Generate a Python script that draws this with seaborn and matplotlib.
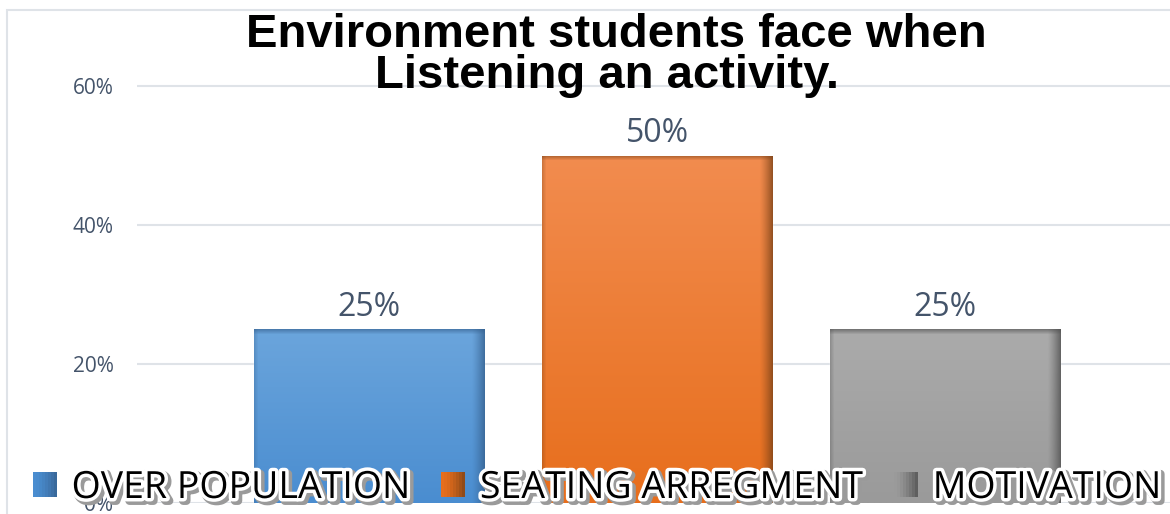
import matplotlib
matplotlib.use("Agg")
import matplotlib.pyplot as plt
import matplotlib.patheffects as pe
from matplotlib.patches import Patch, Rectangle
from matplotlib.legend_handler import HandlerBase
import numpy as np
import seaborn as sns

# ---- data ----
categories = ["OVER POPULATION", "SEATING ARREGMENT", "MOTIVATION"]
values = [0.25, 0.50, 0.25]
yticks = [0.0, 0.2, 0.4, 0.6]
ytick_labels = ["0%", "20%", "40%", "60%"]
title_lines = ["Environment students face when", "Listening an activity."]

# ---- style ----
top_colors = ["#6ba5dc", "#f28c4f", "#ababab"]
bottom_colors = ["#4a8dd0", "#e76e1c", "#9a9a9a"]
edge_colors = ["#35608e", "#7a4218", "#505050"]
label_color = "#44546a"
grid_color = "#dfe3e8"

sns.set_theme(style="white")
plt.rcParams["font.family"] = ["Open Sans", "DejaVu Sans"]

W, H = 1170, 514
fig = plt.figure(figsize=(W / 100, H / 100), dpi=100)
ax = fig.add_axes([137 / W, 11 / H, 1 - 137 / W, 420 / H])

sns.barplot(x=categories, y=values, hue=categories, palette=bottom_colors,
            width=0.8, legend=False, ax=ax, saturation=1, zorder=2)

x_lo, x_hi = -0.806, 2.781
y_hi = 0.6 * 420 / 417
ax.set_xlim(x_lo, x_hi)
ax.set_ylim(0, y_hi)


def hex_rgb(c):
    return np.array(matplotlib.colors.to_rgb(c))


# gradient overlay on every bar (the excel-like shading)
for i, patch in enumerate(ax.patches):
    x0, w, h = patch.get_x(), patch.get_width(), patch.get_height()
    p0 = ax.transData.transform((x0, 0))
    p1 = ax.transData.transform((x0 + w, h))
    nx, ny = max(int(p1[0] - p0[0]), 2), max(int(p1[1] - p0[1]), 2)
    top, bot, edge = hex_rgb(top_colors[i]), hex_rgb(bottom_colors[i]), hex_rgb(edge_colors[i])
    t = np.linspace(0, 1, ny)[:, None, None]
    img = top + (bot - top) * t
    img = np.repeat(img, nx, axis=1)
    # dark right side
    px = np.arange(nx)
    right = np.clip((px - (nx - 14)) / 14, 0, 1) ** 1.3 * 0.85
    left = np.clip((4 - px) / 4, 0, 1) * 0.3
    shade = np.maximum(right, left)[None, :, None]
    img = img * (1 - shade) + edge * shade
    # dark top edge
    py = np.arange(ny)
    tshade = (np.clip((5 - py) / 5, 0, 1) * 0.6)[:, None, None]
    img = img * (1 - tshade) + edge * tshade
    im = ax.imshow(img, extent=[x0, x0 + w, 0, h], aspect="auto",
                   origin="upper", zorder=3, interpolation="bilinear")
    im.set_clip_path(patch)

ax.set_xlim(x_lo, x_hi)
ax.set_ylim(0, y_hi)

for cont, v in zip(ax.containers, values):
    ax.bar_label(cont, labels=[f"{v:.0%}"], padding=4, fontsize=23,
                 color=label_color, zorder=4)

ax.set_yticks(yticks)
ax.set_yticklabels(ytick_labels, fontsize=15, color=label_color)
ax.tick_params(axis="y", length=0, pad=17)
ax.set_xticks([])
ax.set_xlabel("")
ax.set_ylabel("")
ax.grid(axis="y", color=grid_color, linewidth=1.5, zorder=0)
ax.set_axisbelow(True)
sns.despine(ax=ax, left=True, bottom=True)

# chart frame (left and top border)
fig.add_artist(Rectangle((7 / W, -0.1), 1.2, 1.1 - 10 / H, transform=fig.transFigure,
                         facecolor="none", edgecolor=grid_color, linewidth=1.5))

# title: two lines set tight, like the original
for line, xc, yb in zip(title_lines, [616, 607], [47, 88]):
    fig.text(xc / W, 1 - yb / H, line, ha="center", va="baseline", fontsize=34,
             fontweight="bold", family=["Liberation Sans", "DejaVu Sans"],
             color="black")


class GradientSquare(HandlerBase):
    """Legend marker: colour going darker to the right, like the bars."""

    def __init__(self, base, edge):
        super().__init__()
        self.base, self.edge = hex_rgb(base), hex_rgb(edge)

    def create_artists(self, legend, orig_handle, xdescent, ydescent,
                       width, height, fontsize, trans):
        n = 8
        arts = []
        for k in range(n):
            f = (k / (n - 1)) ** 1.5 * 0.8
            c = self.base * (1 - f) + self.edge * f
            arts.append(Rectangle((-xdescent + width * k / n, -ydescent),
                                  width / n + 0.3, height, facecolor=c,
                                  edgecolor="none", transform=trans))
        return arts


fs_leg = 27
px_per_em = fs_leg * 100 / 72
handles = [Patch(facecolor=c, edgecolor="none") for c in bottom_colors]
hmap = {h: GradientSquare(c, e) for h, c, e in zip(handles, bottom_colors, edge_colors)}
leg = fig.legend(handles, categories, loc="center", ncol=3,
                 bbox_to_anchor=(597 / W, 1 - 488 / H), frameon=False,
                 prop={"family": ["Open Sans", "DejaVu Sans"], "size": fs_leg},
                 handlelength=24 / px_per_em, handleheight=24 / px_per_em,
                 handletextpad=15 / px_per_em, columnspacing=31 / px_per_em,
                 borderaxespad=0, borderpad=0, handler_map=hmap)
for txt in leg.get_texts():
    txt.set_color("black")
    txt.set_path_effects([
        pe.Stroke(offset=(2, -2), linewidth=6, foreground="#9a9a9a"),
        pe.Stroke(linewidth=5, foreground="white"),
        pe.Normal(),
    ])

fig.savefig("out.png", dpi=100)
